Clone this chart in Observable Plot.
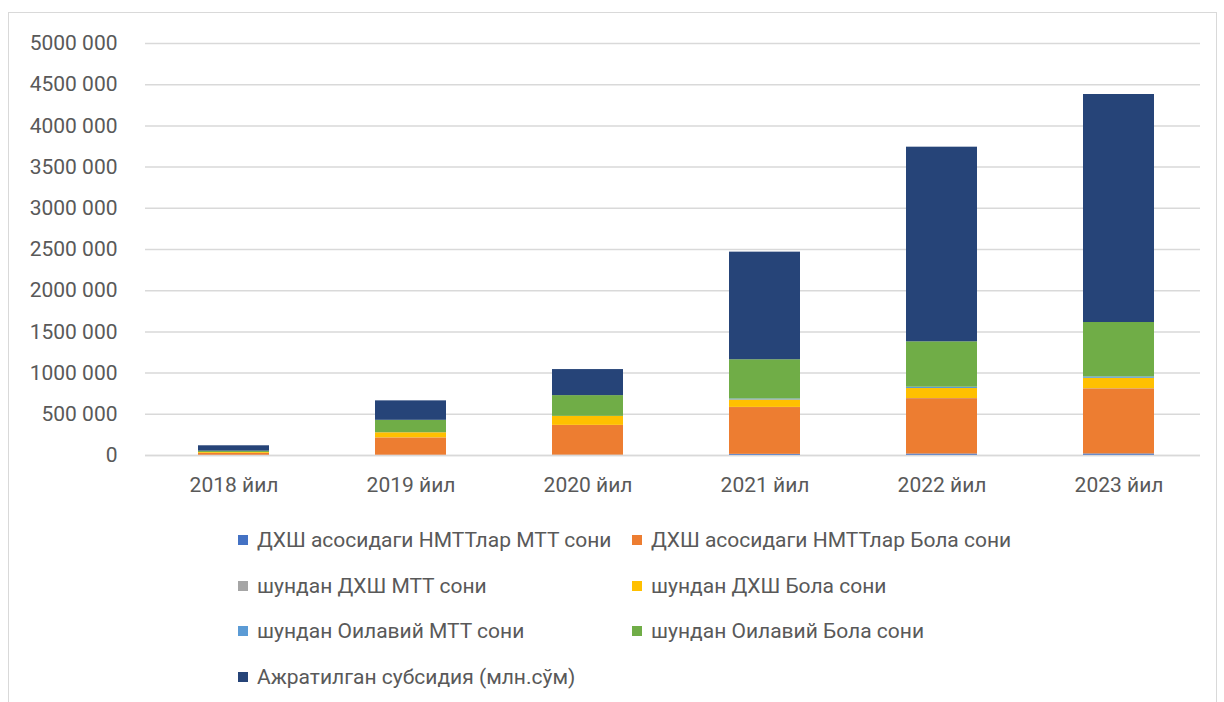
<!DOCTYPE html>
<html>
<head>
<meta charset="utf-8">
<script src="https://cdn.jsdelivr.net/npm/d3@7"></script>
<script src="https://cdn.jsdelivr.net/npm/@observablehq/plot@0.6"></script>
<style>
  html, body { margin: 0; padding: 0; background: #fff; }
  body { width: 1224px; height: 702px; overflow: hidden; position: relative; }
  #frame { position: absolute; left: 8px; top: 12px; width: 1209px; height: 720px; border: 1px solid #d9d9d9; box-sizing: border-box; }
  #chart { position: absolute; left: 0; top: 0; }
  #legend { position: absolute; left: 0; top: 0; width: 1224px; height: 702px; pointer-events: none;
            font-family: "Roboto", sans-serif; font-size: 21px; color: #595959; }
  .item { position: absolute; display: flex; align-items: center; white-space: nowrap; transform: translateY(-50%); }
  .sw { width: 10px; height: 10px; margin-right: 9px; flex: none; }
</style>
</head>
<body>
<div id="frame"></div>
<div id="chart"></div>
<div id="legend"></div>
<script>
// Categories
const years = ["2018 йил", "2019 йил", "2020 йил", "2021 йил", "2022 йил", "2023 йил"];
// Series names (legend order = stack order)
const seriesNames = [
  "ДХШ асосидаги НМТТлар МТТ сони",
  "ДХШ асосидаги НМТТлар Бола сони",
  "шундан ДХШ МТТ сони",
  "шундан ДХШ Бола сони",
  "шундан Оилавий МТТ сони",
  "шундан Оилавий Бола сони",
  "Ажратилган субсидия (млн.сўм)"
];
const seriesColors = ["#4472C4", "#ED7D31", "#A5A5A5", "#FFC000", "#5B9BD5", "#70AD47", "#264478"];
// Series values
const nmttMtt     = [500, 1500, 2500, 14000, 18000, 19000];
const nmttBola    = [26000, 212000, 362000, 568000, 672000, 790000];
const dxshMtt     = [100, 600, 900, 1500, 1800, 2000];
const dxshBola    = [10000, 62000, 108000, 90000, 121000, 126000];
const oilaviyMtt  = [300, 1000, 1500, 12500, 16000, 17000];
const oilaviyBola = [16000, 150000, 252000, 476000, 551000, 660000];
const subsidy     = [65000, 236000, 316000, 1306000, 2362000, 2767000];
// Tick values
const yTicks = [0, 500000, 1000000, 1500000, 2000000, 2500000, 3000000, 3500000, 4000000, 4500000, 5000000];

const seriesValues = [nmttMtt, nmttBola, dxshMtt, dxshBola, oilaviyMtt, oilaviyBola, subsidy];
const data = [];
years.forEach((yr, i) => {
  seriesNames.forEach((s, j) => data.push({year: yr, series: s, value: seriesValues[j][i]}));
});

const fmt = v => {
  if (v === 0) return "0";
  const th = Math.floor(v / 1000), r = v % 1000;
  return th + " " + String(r).padStart(3, "0");
};

const chart = Plot.plot({
  width: 1224,
  height: 500,
  marginLeft: 145,
  marginRight: 24,
  marginTop: 43,
  marginBottom: 45,
  style: {fontFamily: "Roboto, sans-serif", fontSize: "21px", color: "#595959", background: "transparent"},
  x: {domain: years, paddingInner: 0.6, paddingOuter: 0.2735, align: 0.535, label: null},
  y: {domain: [0, 5000000], label: null},
  color: {domain: seriesNames, range: seriesColors},
  marks: [
    Plot.gridY(yTicks, {stroke: "#d9d9d9", strokeOpacity: 1, strokeWidth: 1.5}),
    Plot.axisY(yTicks, {tickSize: 0, tickPadding: 28, tickFormat: fmt, label: null}),
    Plot.axisX({tickSize: 0, tickPadding: 22, label: null}),
    Plot.barY(data, {x: "year", y: "value", fill: "series"}),
    Plot.ruleY([0], {stroke: "#d9d9d9", strokeWidth: 1.5})
  ]
});
document.getElementById("chart").appendChild(chart);

// Legend (two columns, four rows)
const legend = document.getElementById("legend");
const colX = [238, 632];
const rowY = [540, 586, 631, 677];
seriesNames.forEach((s, i) => {
  const item = document.createElement("div");
  item.className = "item";
  item.style.left = colX[i % 2] + "px";
  item.style.top = rowY[Math.floor(i / 2)] + "px";
  const sw = document.createElement("span");
  sw.className = "sw";
  sw.style.background = seriesColors[i];
  const tx = document.createElement("span");
  tx.textContent = s;
  item.appendChild(sw);
  item.appendChild(tx);
  legend.appendChild(item);
});
</script>
</body>
</html>
